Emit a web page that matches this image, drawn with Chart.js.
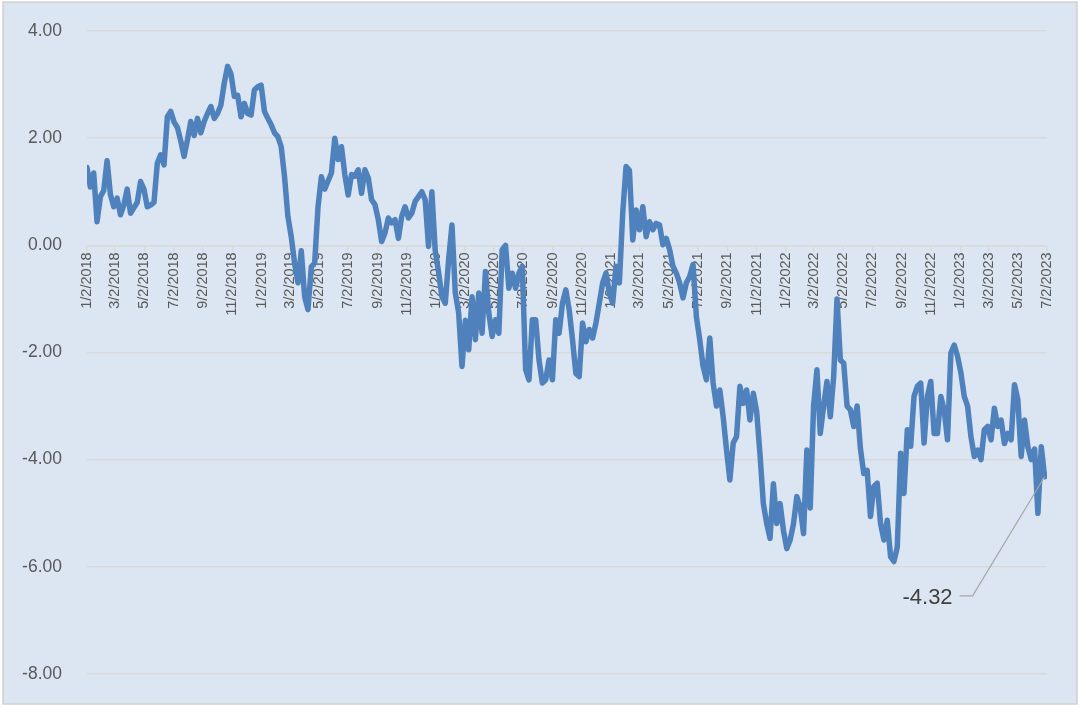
<!DOCTYPE html>
<html>
<head>
<meta charset="utf-8">
<script src="https://cdn.jsdelivr.net/npm/chart.js@4.4.0/dist/chart.umd.min.js"></script>
<style>
    html, body { margin: 0; padding: 0; background: #ffffff; }
    #wrap { width: 1080px; height: 707px; }
</style>
</head>
<body>
<div id="wrap"><canvas id="chart" width="1080" height="707"></canvas></div>
<script>
// weekly readings starting 1/2/2018
const startLabel = '1/2/2018';
const stepDays = 7;
const values = [
    1.45, 1.09, 1.35, 0.44, 0.91, 1.02, 1.58, 0.95, 0.72, 0.88,
    0.57, 0.75, 1.05, 0.6, 0.7, 0.8, 1.19, 1.05, 0.72, 0.75,
    0.8, 1.53, 1.69, 1.5, 2.4, 2.5, 2.3, 2.2, 1.95, 1.66,
    1.97, 2.31, 2.05, 2.37, 2.1, 2.31, 2.46, 2.59, 2.37, 2.46,
    2.62, 3.03, 3.34, 3.2, 2.78, 2.8, 2.4, 2.65, 2.46, 2.43,
    2.9, 2.96, 2.99, 2.5, 2.37, 2.25, 2.1, 2.03, 1.84, 1.28,
    0.54, 0.16, -0.33, -0.7, -0.1, -0.96, -1.2, -0.4, -0.33, 0.72,
    1.28, 1.05, 1.2, 1.35, 2.0, 1.6, 1.84, 1.32, 0.94, 1.32,
    1.29, 1.41, 0.97, 1.41, 1.26, 0.85, 0.76, 0.48, 0.07, 0.23,
    0.51, 0.42, 0.48, 0.13, 0.54, 0.72, 0.51, 0.6, 0.82, 0.91,
    1.0, 0.85, -0.02, 1.0, -0.1, -0.5, -0.96, -1.08, -0.27, 0.38,
    -0.89, -1.26, -2.26, -1.4, -1.95, -0.96, -1.76, -0.89, -1.64, -0.49,
    -1.26, -1.7, -1.39, -1.64, -0.08, 0.0, -0.8, -0.52, -0.8, -0.52,
    -0.39, -2.32, -2.51, -1.39, -1.39, -2.14, -2.57, -2.51, -2.14, -2.51,
    -1.39, -1.64, -1.08, -0.83, -1.2, -1.76, -2.39, -2.45, -1.45, -1.8,
    -1.57, -1.73, -1.45, -1.08, -0.7, -0.52, -0.89, -1.08, -0.39, -0.7,
    0.6, 1.47, 1.4, 0.1, 0.66, 0.29, 0.72, 0.16, 0.44, 0.29,
    0.41, 0.38, 0.01, 0.13, -0.08, -0.39, -0.52, -0.7, -0.98, -0.7,
    -0.58, -0.36, -1.33, -1.76, -2.26, -2.51, -1.73, -2.57, -3.0, -2.7,
    -3.2, -3.82, -4.38, -3.69, -3.57, -2.63, -2.95, -2.7, -3.26, -2.76,
    -3.1, -3.9, -4.82, -5.19, -5.47, -4.45, -5.19, -4.82, -5.32, -5.66,
    -5.5, -5.2, -4.69, -4.88, -5.38, -3.82, -4.9, -3.0, -2.32, -3.51,
    -3.0, -2.54, -3.2, -2.45, -1.0, -2.14, -2.2, -3.0, -3.07, -3.38,
    -3.0, -3.8, -4.26, -4.2, -5.06, -4.5, -4.44, -5.19, -5.5, -5.13,
    -5.81, -5.9, -5.63, -3.88, -4.63, -3.44, -3.75, -2.82, -2.63, -2.57,
    -3.69, -2.82, -2.54, -3.51, -3.51, -2.82, -3.07, -3.63, -2.01, -1.86,
    -2.07, -2.38, -2.82, -3.0, -3.57, -3.94, -3.82, -4.0, -3.44, -3.38,
    -3.63, -3.04, -3.38, -3.26, -3.7, -3.51, -3.63, -2.6, -2.88, -3.94,
    -3.26, -3.76, -4.0, -3.8, -5.0, -3.76, -4.32
];
const tickLabels = [
    '1/2/2018', '3/2/2018', '5/2/2018', '7/2/2018', '9/2/2018', '11/2/2018',
    '1/2/2019', '3/2/2019', '5/2/2019', '7/2/2019', '9/2/2019', '11/2/2019',
    '1/2/2020', '3/2/2020', '5/2/2020', '7/2/2020', '9/2/2020', '11/2/2020',
    '1/2/2021', '3/2/2021', '5/2/2021', '7/2/2021', '9/2/2021', '11/2/2021',
    '1/2/2022', '3/2/2022', '5/2/2022', '7/2/2022', '9/2/2022', '11/2/2022',
    '1/2/2023', '3/2/2023', '5/2/2023', '7/2/2023'
];
const yTicks = [4, 2, 0, -2, -4, -6, -8];
const lastLabel = '-4.32';

function dayOf(label) {
    const [m, d, y] = label.split('/').map(Number);
    const [m0, d0, y0] = startLabel.split('/').map(Number);
    return Math.round((Date.UTC(y, m - 1, d) - Date.UTC(y0, m0 - 1, d0)) / 86400000);
}
const tickDays = tickLabels.map(dayOf);

const frame = {
    id: 'frame',
    beforeDraw(chart) {
        const ctx = chart.ctx;
        ctx.save();
        ctx.fillStyle = '#ffffff';
        ctx.fillRect(0, 0, chart.width, chart.height);
        ctx.fillStyle = '#dce6f2';
        ctx.fillRect(3, 2, chart.width - 6, chart.height - 5);
        ctx.strokeStyle = '#d0d0d0';
        ctx.lineWidth = 1.5;
        ctx.strokeRect(3, 2, chart.width - 6, chart.height - 5);
        ctx.restore();
    }
};

// label for the last value with its leader line
const lastValueLabel = {
    id: 'lastValueLabel',
    afterDatasetsDraw(chart) {
        const meta = chart.getDatasetMeta(0);
        const pt = meta.data[meta.data.length - 1];
        const ctx = chart.ctx;
        ctx.save();
        ctx.strokeStyle = '#a6a6a6';
        ctx.lineWidth = 1.2;
        ctx.beginPath();
        ctx.moveTo(pt.x, pt.y);
        ctx.lineTo(pt.x - 72, pt.y + 119);
        ctx.lineTo(pt.x - 85, pt.y + 119);
        ctx.stroke();
        ctx.fillStyle = '#404040';
        ctx.font = '22px "Liberation Sans"';
        ctx.textAlign = 'right';
        ctx.textBaseline = 'middle';
        ctx.fillText(lastLabel, pt.x - 92, pt.y + 121);
        ctx.restore();
    }
};

new Chart(document.getElementById('chart'), {
    type: 'line',
    data: {
        datasets: [{
            data: values.map((v, i) => ({ x: i * stepDays, y: v })),
            borderColor: '#4f81bd',
            borderWidth: 5.5,
            pointRadius: 0,
            tension: 0,
            borderJoinStyle: 'round',
            borderCapStyle: 'round'
        }]
    },
    options: {
        responsive: false,
        animation: false,
        layout: { padding: { left: 0, right: 33, top: 31, bottom: 33 } },
        plugins: { legend: { display: false }, tooltip: { enabled: false } },
        scales: {
            x: {
                type: 'linear',
                min: 0,
                max: tickDays[tickDays.length - 1],
                position: { y: 0 },
                afterBuildTicks: s => { s.ticks = tickDays.map(v => ({ value: v })); },
                ticks: {
                    autoSkip: false,
                    minRotation: 90,
                    maxRotation: 90,
                    padding: 2,
                    color: '#595959',
                    font: { family: 'Liberation Sans', size: 14.5 },
                    callback: v => tickLabels[tickDays.indexOf(v)]
                },
                grid: { drawOnChartArea: false, tickLength: 5, color: '#d9d9d9', lineWidth: 1.5 },
                border: { color: '#d9d9d9', width: 1.5 }
            },
            y: {
                min: -8,
                max: 4,
                afterBuildTicks: s => { s.ticks = yTicks.map(v => ({ value: v })); },
                afterFit: s => { s.width = 87; },
                ticks: {
                    padding: 0,
                    color: '#595959',
                    font: { family: 'Liberation Sans', size: 17.5 },
                    callback: v => v.toFixed(2)
                },
                // invisible tick marks keep the labels clear of the plot
                grid: { color: '#d9d9d9', lineWidth: 1.5, drawTicks: true, tickLength: 25, tickColor: 'rgba(0,0,0,0)' },
                border: { display: false }
            }
        }
    },
    plugins: [frame, lastValueLabel]
});
</script>
</body>
</html>
